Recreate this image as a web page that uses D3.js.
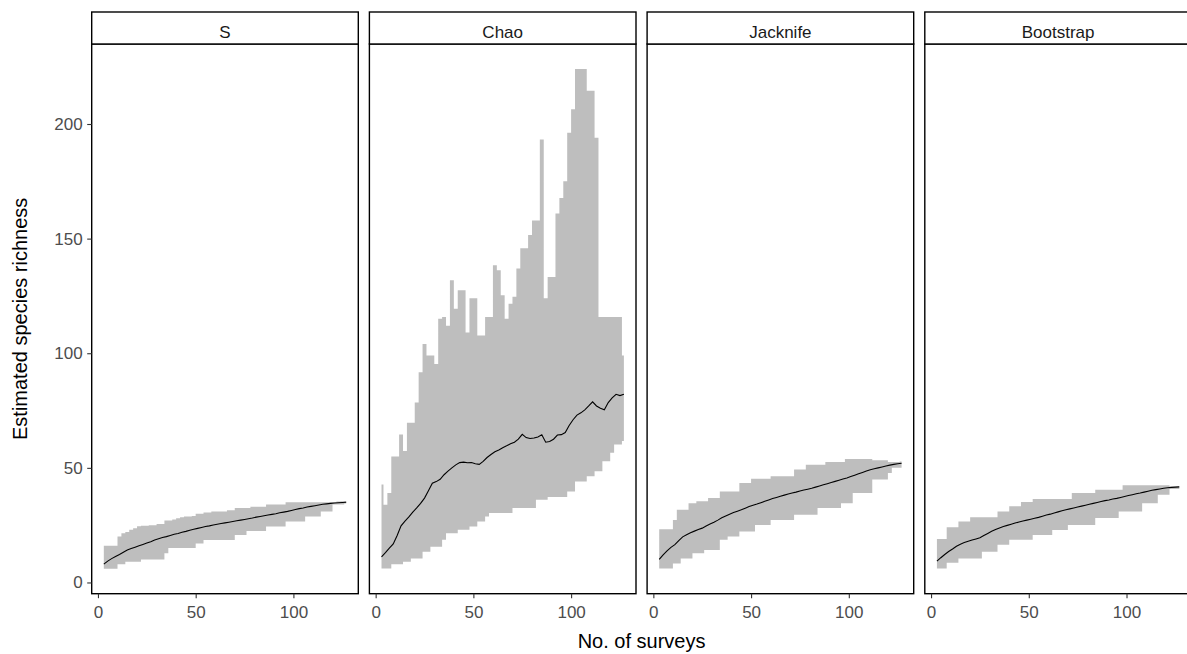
<!DOCTYPE html>
<html>
<head>
<meta charset="utf-8">
<script src="https://cdn.jsdelivr.net/npm/d3@7"></script>
<style>
  body { margin: 0; background: #fff; }
  text { font-family: "Liberation Sans", Arial, sans-serif; }
</style>
</head>
<body>
<div id="root"></div>
<script>
// number of surveys (x), shared by all facets
const surveys = [3,5,7,9,11,13,15,17,19,21,23,25,27,29,31,33,35,37,39,41,43,45,47,49,51,53,55,57,59,61,
  63,65,67,69,71,73,75,77,79,81,83,85,87,89,91,93,95,97,99,101,103,105,107,109,111,113,115,117,119,121,123,125,127]

const facetNames = ["S", "Chao", "Jacknife", "Bootstrap"]

// S (observed)
const sMean = [8,9.3,10.4,11.3,12.2,13.2,14.2,14.8,15.4,16,
  16.6,17.2,17.8,18.5,19.1,19.6,20,20.5,21,21.4,
  21.9,22.3,22.8,23.2,23.6,24,24.4,24.7,25.1,25.4,
  25.7,26,26.3,26.6,26.9,27.2,27.5,27.8,28.1,28.5,
  28.8,29.1,29.4,29.7,30,30.4,30.7,31,31.4,31.8,
  32.2,32.5,32.9,33.2,33.5,33.8,34.1,34.3,34.5,34.7,
  34.8,34.9,35]
const sLower = [6,6,6,6,8,8,9,9,9,9,
  10,10,10,10,10,10,12.7,15,15,15,
  15,15,15,15,17,17,18.5,18.5,18.5,18.5,
  18.5,18.5,18.5,18.5,20.7,20.7,20.7,22.5,22.5,22.5,
  22.5,22.5,24.4,24.4,24.4,24.4,24.4,26.6,26.6,26.6,
  26.6,26.6,28.8,28.8,28.8,28.8,31,31,31,34,
  34,34,34.5]
const sUpper = [16,16,16,16,20,21.5,22,23,23.7,24.5,
  24.7,24.7,25,25,25.5,25.5,27,27,27.5,28,
  28.5,28.8,28.8,29,30,30,30.5,30.5,31,31,
  31,31,31.5,31.5,32.5,32.5,32.5,32.5,33,33,
  33,33,34,34,34,34,34,35,35,35,
  35,35,35,35,35,35,35,35,35,35,
  35.3,35.4,35.5]

// Chao
const chaoMean = [11.2,13,15,16.8,20.5,24.7,26.8,28.6,30.7,32.5,
  34.5,36.8,40,43.3,44,45,47,48.6,50,51.3,
  52.3,52.5,52.2,52.3,51.8,51.5,52.8,54.5,55.8,57,
  57.8,58.8,59.6,60.5,61.2,62.5,64.6,63.2,62.8,63,
  63.5,64.4,61.2,61.5,62.5,64.3,64.5,65.4,68.5,71,
  73,74,75.3,77,78.8,77,76,75.3,78.5,80.5,
  82.1,81.5,82.1]
const chaoLower = [6.1,6.1,6.1,8,8,8,9,9,10.5,10.5,
  10.5,13.4,13.4,15.6,15.6,15.6,18.6,21.5,21.5,21.5,
  23,23,23,24.4,24.4,26.6,26.6,28.8,30.3,30.3,
  30.3,30.3,30.3,30.3,32.5,32.5,32.5,32.5,32.5,32.5,
  36.1,36.1,36.1,37.3,37.3,37.3,37.3,37.3,39.7,39.7,
  44.1,44.1,44.1,46.3,46.3,48.5,48.5,52.9,52.9,56.6,
  60.2,60.2,61.7]
const chaoUpper = [42.7,33.9,39,55,55,64.6,57.3,69.7,69.7,78.5,
  91.7,104,99,99,95.3,115,115.8,112,131.8,119.4,
  127.5,127.5,109,124,124,107.7,107.7,115.8,115.8,138.4,
  136.2,125.3,115,121.6,124.6,137,145.8,145.8,151.6,157.9,
  157.9,193.2,124,133.3,133.3,161,167.7,175,196.2,206.4,
  224,224,224,214.5,214.5,194,115.8,115.8,115.8,115.8,
  115.8,115.8,99]

// Jacknife
const jackMean = [10.1,12,13.8,15.3,16.5,18.3,19.9,20.8,21.7,22.4,
  23.1,23.7,24.6,25.5,26.3,27.2,28.2,29,29.8,30.5,
  31.1,31.7,32.4,33.1,33.7,34.2,34.8,35.4,36,36.6,
  37.1,37.6,38.1,38.6,39,39.4,39.9,40.3,40.7,41.1,
  41.6,42.1,42.6,43.1,43.6,44.1,44.6,45.1,45.6,46.2,
  46.8,47.4,48,48.6,49.2,49.6,50,50.4,50.8,51.2,
  51.5,51.8,52]
const jackLower = [6.1,6.1,6.1,6.1,8.3,8.3,10.5,10.5,10.5,12.7,
  12.7,12.7,14.2,14.2,14.2,14.2,18.6,18.6,20,20,
  20,22.2,22.2,22.2,22.2,25.1,25.1,25.1,25.1,27.3,
  27.3,27.3,27.3,27.3,27.3,29.5,29.5,29.5,29.5,29.5,
  29.5,32.5,32.5,32.5,32.5,32.5,32.5,34.6,34.6,34.6,
  39,39,39,39,39,44.9,44.9,44.9,44.9,47.8,
  50,50,50]
const jackUpper = [23.2,23.2,23.2,23.2,27.3,31.7,31.7,31.7,34.6,34.6,
  35.4,35.4,35.4,36.8,36.8,36.8,39.7,39.7,39.7,39.7,
  39.7,43.4,43.4,43.4,45.2,45.2,45.2,45.2,45.2,46.3,
  46.3,46.3,46.3,46.3,46.3,49.3,49.3,49.3,51.4,51.4,
  51.4,51.4,51.4,52.5,52.5,52.5,52.5,52.5,53.9,53.9,
  53.9,53.9,53.9,53.9,53.9,53.3,53.3,53.3,53.3,52.5,
  52.5,52.5,52.8]

// Bootstrap
const bootMean = [9.3,10.8,12.2,13.5,14.6,15.8,16.7,17.4,18,18.5,
  19,19.5,20.5,21.4,22.3,23.1,23.8,24.4,24.9,25.4,
  25.9,26.4,26.8,27.2,27.6,28,28.4,28.9,29.4,29.8,
  30.3,30.8,31.3,31.7,32.1,32.5,32.9,33.3,33.7,34.1,
  34.5,34.9,35.3,35.7,36,36.4,36.7,37.1,37.5,37.9,
  38.3,38.7,39,39.4,39.8,40.2,40.5,40.8,41.1,41.3,
  41.5,41.6,41.7]
const bootLower = [6.1,6.1,6.1,8.6,8.6,8.6,10.5,10.5,10.5,10.5,
  10.5,10.5,13.4,13.4,13.4,13.4,16.4,16.4,16.4,18.6,
  18.6,18.6,18.6,18.6,18.6,20.7,20.7,20.7,20.7,20.7,
  22.9,22.9,22.9,22.9,25.1,25.1,25.1,25.1,25.1,25.1,
  25.1,28.1,28.1,28.1,28.1,28.1,28.1,31,31,31,
  31,31,31,34.6,34.6,34.6,34.6,38.3,38.3,38.3,
  40.8,40.8,40.8]
const bootUpper = [19,19,19,24.1,24.1,24.1,26.6,26.6,26.6,28.5,
  28.5,28.5,28.5,28.5,28.5,28.5,31,31,31,33.2,
  33.2,33.2,35.1,35.1,35.1,36.4,36.4,36.4,36.4,36.4,
  36.4,36.4,36.4,36.4,36.4,39,39,39,39,39,
  39,40.5,40.5,40.5,40.5,40.5,40.5,40.5,42.4,42.4,
  42.4,42.4,42.4,42.4,42.4,42.4,42.4,42.4,42.4,42.4,
  41.9,41.9,41.9]

const xTicks = [0, 50, 100]
const yTicks = [0, 50, 100, 150, 200]

const means = [sMean, chaoMean, jackMean, bootMean]
const lowers = [sLower, chaoLower, jackLower, bootLower]
const uppers = [sUpper, chaoUpper, jackUpper, bootUpper]

const facets = facetNames.map((name, i) => ({
    name: name,
    rows: surveys.map((s, j) => ({ x: s, mean: means[i][j], lo: lowers[i][j], hi: uppers[i][j] }))
}))

// layout
const width = 1187
const height = 654
const plotLeft = 91.7
const panelW = 266.6
const gap = 11.1
const stripTop = 12
const stripH = 32
const panelTop = stripTop + stripH
const panelBottom = 593.7
const panelH = panelBottom - panelTop

const svg = d3.select('#root').append('svg')
    .attr('width', width).attr('height', height)

// ggplot style 5% expansion
const xExt = d3.extent(surveys)
const xPad = (xExt[1] - xExt[0]) * 0.05
const x = d3.scaleLinear().domain([xExt[0] - xPad, xExt[1] + xPad]).range([0, panelW])

const yMin = d3.min(lowers, d => d3.min(d))
const yMax = d3.max(uppers, d => d3.max(d))
const yPad = (yMax - yMin) * 0.05
const y = d3.scaleLinear().domain([yMin - yPad, yMax + yPad]).range([panelH, 0])

const band = d3.area().x(d => x(d.x)).y0(d => y(d.lo)).y1(d => y(d.hi)).curve(d3.curveStep)
const line = d3.line().x(d => x(d.x)).y(d => y(d.mean))

facets.forEach((f, i) => {
    const g = svg.append('g')
        .attr('transform', `translate(${plotLeft + i * (panelW + gap)},${panelTop})`)

    g.append('path').datum(f.rows)
        .attr('d', band).attr('fill', '#bebebe')

    g.append('path').datum(f.rows)
        .attr('d', line).attr('fill', 'none').attr('stroke', '#000').attr('stroke-width', 1.1)

    g.append('rect')
        .attr('width', panelW).attr('height', panelH)
        .attr('fill', 'none').attr('stroke', '#000').attr('stroke-width', 1.4)

    // strip
    g.append('rect')
        .attr('y', -stripH).attr('width', panelW).attr('height', stripH)
        .attr('fill', '#fff').attr('stroke', '#000').attr('stroke-width', 1.4)
    g.append('text')
        .attr('x', panelW / 2).attr('y', -stripH + 25.5)
        .attr('text-anchor', 'middle').attr('font-size', 17).attr('fill', '#1a1a1a')
        .text(f.name)

    const xa = g.append('g').attr('transform', `translate(0,${panelH})`)
        .call(d3.axisBottom(x).tickValues(xTicks).tickSize(4.5).tickPadding(8))
    xa.select('.domain').remove()
    xa.selectAll('line').attr('stroke', '#333').attr('stroke-width', 1.1)
    xa.selectAll('text').attr('font-size', 17).attr('fill', '#4d4d4d')
        .style('font-family', '"Liberation Sans", Arial, sans-serif')

    if (i === 0) {
        const ya = g.append('g')
            .call(d3.axisLeft(y).tickValues(yTicks).tickSize(4.5).tickPadding(4.5))
        ya.select('.domain').remove()
        ya.selectAll('line').attr('stroke', '#333').attr('stroke-width', 1.1)
        ya.selectAll('text').attr('font-size', 17).attr('fill', '#4d4d4d')
            .style('font-family', '"Liberation Sans", Arial, sans-serif')
    }
})

// axis titles
svg.append('text')
    .attr('x', plotLeft + (4 * panelW + 3 * gap) / 2).attr('y', 648)
    .attr('text-anchor', 'middle').attr('font-size', 20).attr('fill', '#000')
    .text('No. of surveys')

svg.append('text')
    .attr('transform', `translate(27,${(panelTop + panelBottom) / 2}) rotate(-90)`)
    .attr('text-anchor', 'middle').attr('font-size', 20).attr('fill', '#000')
    .text('Estimated species richness')
</script>
</body>
</html>
